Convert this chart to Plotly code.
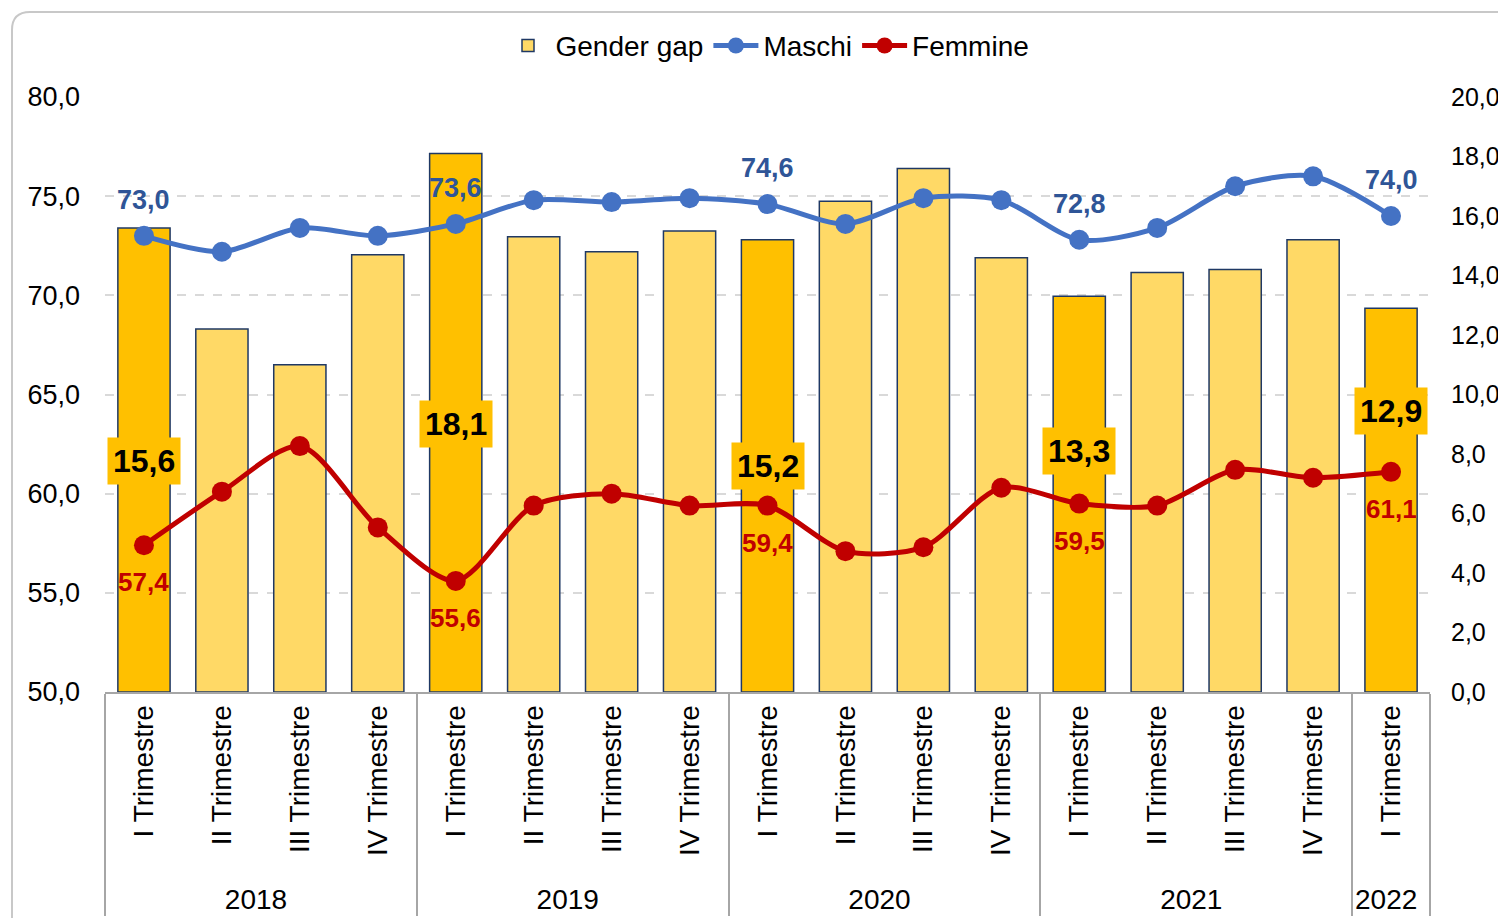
import plotly.graph_objects as go

# ---------------- data ----------------
years = ["2018"] * 4 + ["2019"] * 4 + ["2020"] * 4 + ["2021"] * 4 + ["2022"]
quarters = ["I Trimestre", "II Trimestre", "III Trimestre", "IV Trimestre"] * 4 + ["I Trimestre"]
gender_gap = [15.6, 12.2, 11.0, 14.7, 18.1, 15.3, 14.8, 15.5, 15.2, 16.5, 17.6, 14.6,
              13.3, 14.1, 14.2, 15.2, 12.9]
maschi = [73.0, 72.2, 73.4, 73.0, 73.6, 74.8, 74.7, 74.9, 74.6, 73.6, 74.9, 74.8,
          72.8, 73.4, 75.5, 76.0, 74.0]
femmine = [57.4, 60.1, 62.4, 58.3, 55.6, 59.4, 60.0, 59.4, 59.4, 57.1, 57.3, 60.3,
           59.5, 59.4, 61.2, 60.8, 61.1]
left_ticks = [50, 55, 60, 65, 70, 75, 80]
right_ticks = [0, 2, 4, 6, 8, 10, 12, 14, 16, 18, 20]

# ---------------- styling ----------------
FONT = "Liberation Sans, Arial, sans-serif"
DARK_Y = "#FFC000"
LIGHT_Y = "#FFD966"
BAR_LINE = "#1F3864"
BLUE = "#4472C4"
BLUE_TXT = "#2F5597"
RED = "#C00000"
# right-axis height at which each highlighted gap label is centred
gap_label_pos = {0: 7.76, 4: 9.0, 8: 7.6, 12: 8.1, 16: 9.45}

# page body has an 8px default margin: compensate so the plot lands where intended
PAGE_OFF = 8
FIG_W, FIG_H = 1506 - PAGE_OFF, 918 - PAGE_OFF
PLOT_L, PLOT_T, PLOT_W, PLOT_H = 105, 97, 1325, 595  # window pixels

x = [years, quarters]
n = len(quarters)
highlight = [q == "I Trimestre" for q in quarters]
bar_colors = [DARK_Y if h else LIGHT_Y for h in highlight]

fig = go.Figure()
# bars on the primary axis (drawn at the right side), lines on the overlaying left axis
fig.add_trace(go.Bar(
    x=x, y=gender_gap, yaxis="y", name="Gender gap", showlegend=False,
    marker=dict(color=bar_colors, line=dict(color=BAR_LINE, width=1.5)),
    width=0.67, hoverinfo="y",
))
# legend-only entry for the bars (light colour, as in the original legend)
fig.add_trace(go.Bar(
    x=[[years[1]], [quarters[1]]], y=[None], yaxis="y", name="Gender gap",
    marker=dict(color=LIGHT_Y, line=dict(color=BAR_LINE, width=1.5)),
))
fig.add_trace(go.Scatter(
    x=x, y=maschi, name="Maschi", mode="lines+markers", yaxis="y2",
    line=dict(color=BLUE, width=5, shape="spline", smoothing=0.8),
    marker=dict(color=BLUE, size=20),
))
fig.add_trace(go.Scatter(
    x=x, y=femmine, name="Femmine", mode="lines+markers", yaxis="y2",
    line=dict(color=RED, width=5, shape="spline", smoothing=0.8),
    marker=dict(color=RED, size=20),
))

ann = []
for i, h in enumerate(highlight):
    if not h:
        continue
    ann.append(dict(x=i, y=maschi[i], xref="x", yref="y2", yshift=36, showarrow=False,
                    text=f"{maschi[i]:.1f}".replace(".", ","),
                    font=dict(family=FONT, size=27, color=BLUE_TXT, weight="bold")))
    ann.append(dict(x=i, y=femmine[i], xref="x", yref="y2", yshift=-37, showarrow=False,
                    text=f"{femmine[i]:.1f}".replace(".", ","),
                    font=dict(family=FONT, size=26, color=RED, weight="bold")))
    ann.append(dict(x=i, y=gap_label_pos[i], xref="x", yref="y", showarrow=False,
                    text=f"{gender_gap[i]:.1f}".replace(".", ","), bgcolor=DARK_Y,
                    borderpad=5,
                    font=dict(family=FONT, size=32, color="black", weight="bold")))

# chart-area border (rounded top-left corner), given in window pixels
def px2paper(px, py):
    return (px - PLOT_L) / PLOT_W, (PLOT_T + PLOT_H - py) / PLOT_H

x0, y0 = px2paper(12, 960)
x1, y1 = px2paper(12, 30)
xc, yc = px2paper(12, 12)
x2, y2 = px2paper(30, 12)
x3, y3 = px2paper(1560, 12)
border_path = f"M {x0} {y0} L {x1} {y1} Q {xc} {yc} {x2} {y2} L {x3} {y3}"

m_l = PLOT_L - PAGE_OFF
m_t = PLOT_T - PAGE_OFF
fig.update_layout(
    width=FIG_W, height=FIG_H,
    margin=dict(l=m_l, r=FIG_W - m_l - PLOT_W, t=m_t, b=FIG_H - m_t - PLOT_H,
                autoexpand=False),
    paper_bgcolor="white", plot_bgcolor="white",
    separators=",.",
    barmode="overlay",
    font=dict(family=FONT, size=26, color="black"),
    annotations=ann,
    shapes=[dict(type="path", path=border_path, xref="paper", yref="paper",
                 line=dict(color="#C8C8C8", width=2), layer="below")],
    legend=dict(orientation="h", x=0.5, xanchor="center", y=1.086, yanchor="middle",
                font=dict(family=FONT, size=28), itemwidth=45, traceorder="normal",
                bgcolor="rgba(0,0,0,0)"),
    xaxis=dict(
        type="multicategory", range=[-0.5, n - 0.5], automargin=False,
        showline=True, linecolor="#A6A6A6", linewidth=2,
        tickangle=-90, tickfont=dict(family=FONT, size=28),
        showdividers=True, dividercolor="#A6A6A6", dividerwidth=2,
        ticks="", showgrid=False,
    ),
    yaxis=dict(
        range=[0, 20], tickvals=right_ticks, tickformat=".1f", side="right",
        showgrid=False, zeroline=False, showline=False, ticks="", automargin=False,
        ticklabelstandoff=20, tickfont=dict(family=FONT, size=25),
    ),
    yaxis2=dict(
        range=[50, 80], tickvals=left_ticks, tickformat=".1f", overlaying="y",
        side="left", showgrid=True, gridcolor="#D9D9D9", griddash="dash", gridwidth=1.5,
        zeroline=False, showline=False, ticks="", automargin=False,
        ticklabelstandoff=24, tickfont=dict(family=FONT, size=27),
    ),
)

fig.write_html("out.html")
